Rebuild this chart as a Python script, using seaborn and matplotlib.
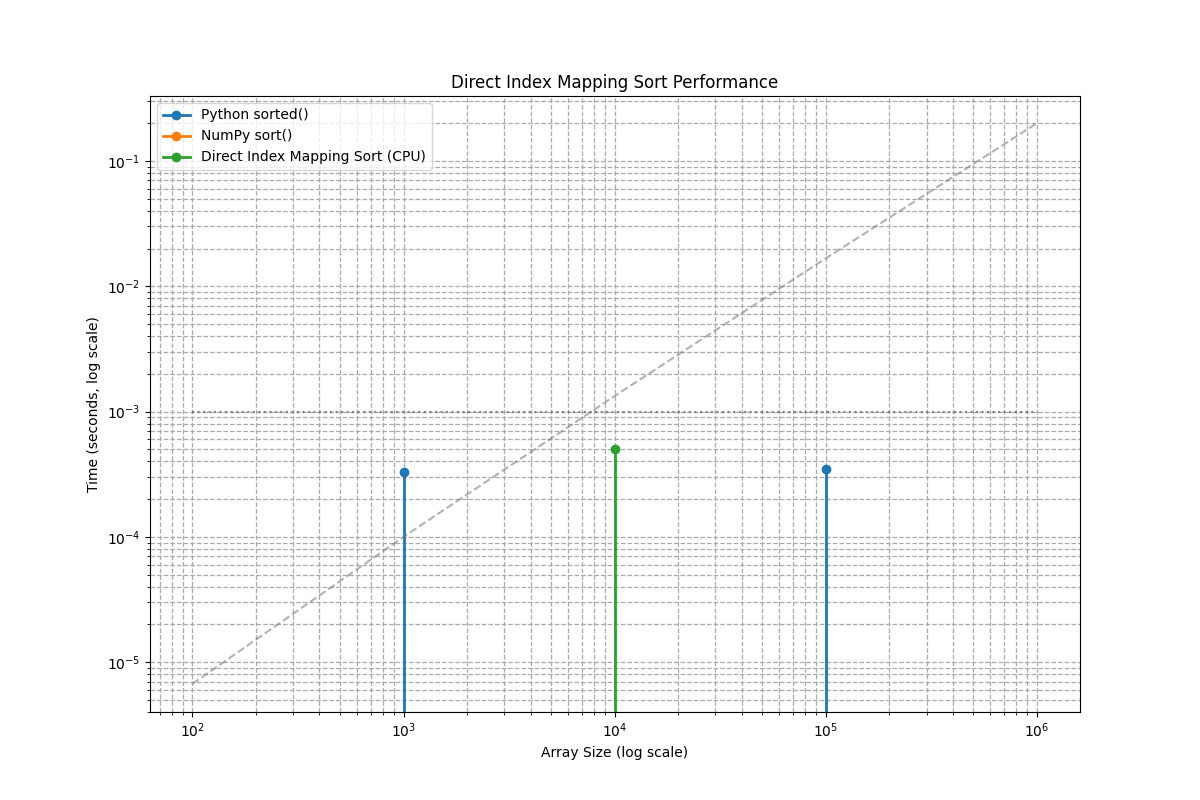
import numpy as np
import matplotlib
matplotlib.use("Agg")
import matplotlib.pyplot as plt
import seaborn as sns

sns.set_style("ticks")
plt.rcParams.update(matplotlib.rcParamsDefault)

# measured timings (0 = run failed / not measurable, vanishes on log axis)
python_sizes = [1000, 1000, 100000, 100000]
python_times = [0.0, 3.3e-4, 0.0, 3.5e-4]
numpy_sizes = [1000, 1000]
numpy_times = [0.0, 0.0]
dims_sizes = [10000, 10000]
dims_times = [0.0, 5.0e-4]

# O(n log n) reference curve and 1 ms reference
ref_sizes = [1e2, 1e3, 1e4, 1e5, 1e6]
ref_times = [6.7e-6, 1.0e-4, 1.33e-3, 1.67e-2, 2.0e-1]
ms_sizes = [1e2, 1e6]
ms_times = [1e-3, 1e-3]

fig, ax = plt.subplots(figsize=(12, 8), dpi=100)
pal = sns.color_palette("tab10")

ax.plot(python_sizes[:2], python_times[:2], marker="o", lw=2, color=pal[0], label="Python sorted()")
ax.plot(python_sizes[2:], python_times[2:], marker="o", lw=2, color=pal[0])
ax.plot(numpy_sizes, numpy_times, marker="o", lw=2, color=pal[1], label="NumPy sort()")
ax.plot(dims_sizes, dims_times, marker="o", lw=2, color=pal[2], label="Direct Index Mapping Sort (CPU)")
ax.plot(ref_sizes, ref_times, "--", color="gray", alpha=0.6)
ax.plot(ms_sizes, ms_times, ":", color="dimgray", alpha=0.8)

ax.set_xscale("log")
ax.set_yscale("log")
ax.set_xlim(63, 1.6e6)
ax.set_ylim(4e-6, 0.33)
ax.grid(True, which="both", linestyle="--", color="#aaaaaa", linewidth=0.9)
ax.set_title("Direct Index Mapping Sort Performance")
ax.set_xlabel("Array Size (log scale)")
ax.set_ylabel("Time (seconds, log scale)")
ax.legend(loc="upper left")

fig.savefig("out.png", dpi=100)
